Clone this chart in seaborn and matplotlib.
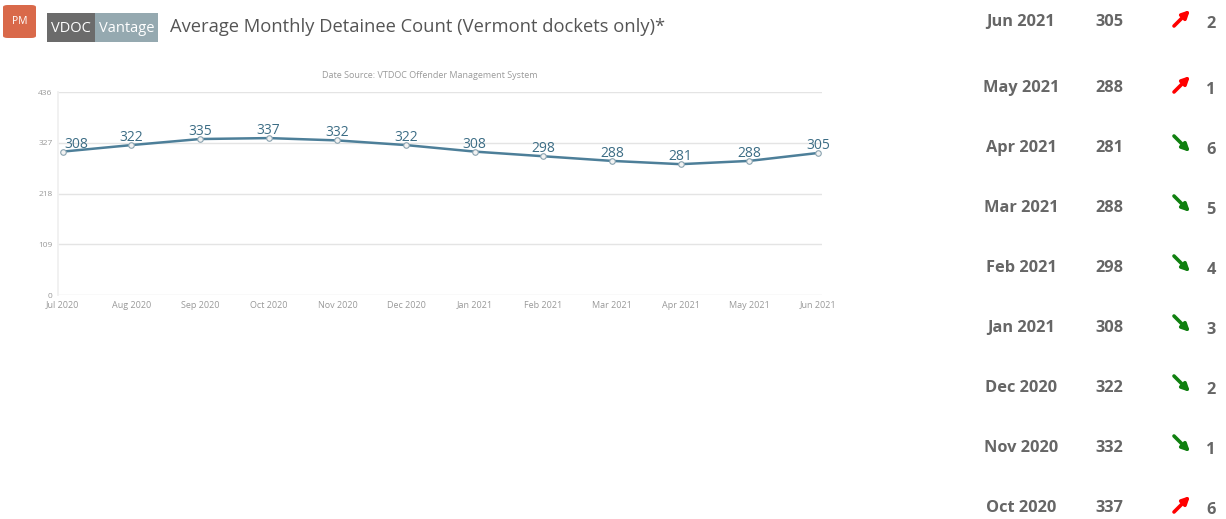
import pandas as pd
import seaborn as sns
import matplotlib.pyplot as plt
from matplotlib.patches import FancyBboxPatch, Rectangle, FancyArrowPatch

# Dữ liệu
months = ['Jul 2020', 'Aug 2020', 'Sep 2020', 'Oct 2020', 'Nov 2020', 'Dec 2020',
          'Jan 2021', 'Feb 2021', 'Mar 2021', 'Apr 2021', 'May 2021', 'Jun 2021']
counts = [308, 322, 335, 337, 332, 322, 308, 298, 288, 281, 288, 305]
y_ticks = [0, 109, 218, 327, 436]

table_months = ['Jun 2021', 'May 2021', 'Apr 2021', 'Mar 2021', 'Feb 2021',
                'Jan 2021', 'Dec 2020', 'Nov 2020', 'Oct 2020']
table_values = [305, 288, 281, 288, 298, 308, 322, 332, 337]
table_trend = ['up', 'up', 'down', 'down', 'down', 'down', 'down', 'down', 'up']
table_streak = [2, 1, 6, 5, 4, 3, 2, 1, 6]

sns.set_theme(style='white')
plt.rcParams['font.family'] = ['Open Sans', 'DejaVu Sans']

W, H = 1226, 519
fig = plt.figure(figsize=(W / 100, H / 100), dpi=100)

def fx(px):
    return px / W

def fy(py):
    return 1 - py / H

# Tiêu đề
badge = FancyBboxPatch((fx(3), fy(38)), fx(33), fy(5) - fy(38), boxstyle='round,pad=0,rounding_size=0.004',
                       transform=fig.transFigure, facecolor='#d9694a', edgecolor='none')
fig.patches.append(badge)
fig.text(fx(19.5), fy(21), 'PM', color='white', fontsize=7.5, ha='center', va='center')
fig.patches.append(Rectangle((fx(47), fy(42)), fx(48), fy(13) - fy(42), transform=fig.transFigure,
                             facecolor='#6b6b6b', edgecolor='none'))
fig.patches.append(Rectangle((fx(95), fy(42)), fx(63), fy(13) - fy(42), transform=fig.transFigure,
                             facecolor='#95a9b0', edgecolor='none'))
fig.text(fx(71), fy(29), 'VDOC', color='white', fontsize=10.5, ha='center', va='center')
fig.text(fx(126.5), fy(29), 'Vantage', color='white', fontsize=10.5, ha='center', va='center')
fig.text(fx(170), fy(27), 'Average Monthly Detainee Count (Vermont dockets only)*',
         color='#555555', fontsize=13.2, ha='left', va='center')

# Biểu đồ đường
left, right, top, bottom = 58, 822, 92, 295
ax = fig.add_axes([fx(left), fy(bottom), fx(right - left), fy(top) - fy(bottom)])
df = pd.DataFrame({'month': months, 'count': counts, 'idx': range(len(months))})
sns.lineplot(data=df, x='idx', y='count', ax=ax, color='#4d7f99', linewidth=1.8,
             marker='o', markersize=4, markerfacecolor='#f2f2f2', markeredgecolor='#8aa3b0',
             markeredgewidth=0.8)
for i, v in enumerate(counts):
    dx = 10 if i == 0 else 0
    ax.annotate(str(v), (i, v), xytext=(dx, 0), textcoords='offset points',
                ha='center', va='bottom', fontsize=10, color='#3c6d85')

ax.set_xlim(-0.07, 11.06)
ax.set_ylim(0, 436)
ax.set_yticks(y_ticks)
ax.set_yticklabels([str(t) for t in y_ticks], fontsize=6, color='#999999')
ax.set_xticks(range(len(months)))
ax.set_xticklabels(months, fontsize=6.5, color='#999999')
ax.tick_params(axis='both', length=0, pad=4)
ax.grid(axis='y', color='#e4e4e4', linewidth=1)
for s in ['top', 'right', 'bottom']:
    ax.spines[s].set_visible(False)
ax.spines['left'].set_color('#f0f0f0')
ax.set_xlabel('')
ax.set_ylabel('')
fig.text(fx(430), fy(75), 'Date Source: VTDOC Offender Management System',
         fontsize=6.5, color='#9a9a9a', ha='center', va='center')

# Bảng bên phải
row_y = [20, 86, 146, 206, 266, 326, 386, 446, 506]
for y, m, v, t, s in zip(row_y, table_months, table_values, table_trend, table_streak):
    fig.text(fx(1021), fy(y + 2), m, fontsize=11.8, fontweight='bold', color='#666666', ha='center', va='center')
    fig.text(fx(1109), fy(y + 2), str(v), fontsize=11.8, fontweight='bold', color='#666666', ha='center', va='center')
    if t == 'up':
        p0, p1, col = (1174, y + 6), (1190, y - 10), '#ff0000'
    else:
        p0, p1, col = (1174, y - 10), (1190, y + 6), '#108010'
    fig.add_artist(FancyArrowPatch((fx(p0[0]), fy(p0[1])), (fx(p1[0]), fy(p1[1])),
                                   transform=fig.transFigure, arrowstyle='-|>', mutation_scale=11,
                                   linewidth=2.6, color=col, shrinkA=0, shrinkB=0))
    fig.text(fx(1211), fy(y + 4), str(s), fontsize=11.8, fontweight='bold', color='#666666', ha='center', va='center')

fig.savefig('out.png', dpi=100, facecolor='white')
